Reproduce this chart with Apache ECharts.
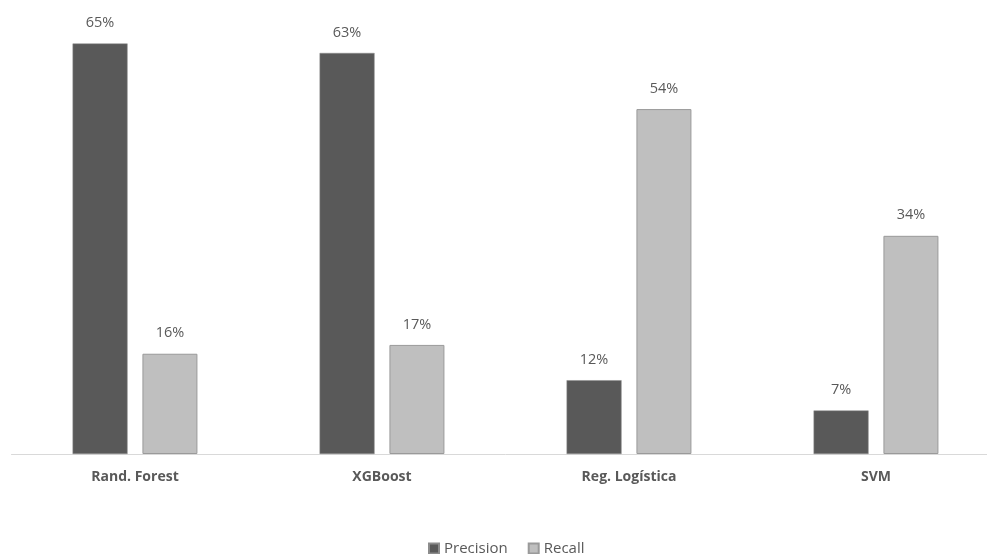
<!DOCTYPE html>
<html>
<head>
<meta charset="utf-8">
<script src="https://cdn.jsdelivr.net/npm/echarts@6/dist/echarts.min.js"></script>
<style>
  html, body { margin: 0; padding: 0; background: #fff; overflow: hidden; }
  /* the plot runs a little past the right edge of the window in the original */
  #chart { width: 1000px; height: 554px; }
</style>
</head>
<body>
<div id="chart"></div>
<script>
const categories = ['Rand. Forest', 'XGBoost', 'Reg. Logística', 'SVM']
const precision = [65.1, 63.6, 11.7, 6.9]
const recall = [15.9, 17.3, 54.7, 34.6]
const precisionLabels = ['65%', '63%', '12%', '7%']
const recallLabels = ['16%', '17%', '54%', '34%']

const font = '"Open Sans", "Noto Sans", sans-serif'
const textColor = '#595959'

const chart = echarts.init(document.getElementById('chart'))

const makeLabel = (labels) => ({
  show: true,
  position: 'top',
  distance: 13,
  color: textColor,
  fontFamily: font,
  fontSize: 14.5,
  formatter: p => labels[p.dataIndex]
})

chart.setOption({
  animation: false,
  grid: { left: 11.5, width: 988, top: 0, bottom: 100 },
  legend: {
    top: 536,
    left: 423,
    icon: 'rect',
    itemWidth: 10,
    itemHeight: 10,
    itemGap: 20,
    textStyle: { color: textColor, fontFamily: font, fontSize: 15 },
    data: ['Precision', 'Recall']
  },
  xAxis: {
    type: 'category',
    data: categories,
    axisLine: { lineStyle: { color: '#d9d9d9', width: 1 } },
    axisTick: { show: false },
    axisLabel: {
      color: textColor,
      fontFamily: font,
      fontSize: 14,
      fontWeight: 'bold',
      margin: 16
    }
  },
  yAxis: {
    type: 'value',
    min: 0,
    max: 72,
    show: false,
    splitLine: { show: false }
  },
  series: [
    {
      name: 'Precision',
      type: 'bar',
      data: precision,
      barWidth: 55,
      barGap: '27%',
      itemStyle: { color: '#595959', borderColor: '#8c8c8c', borderWidth: 0.5 },
      label: makeLabel(precisionLabels)
    },
    {
      name: 'Recall',
      type: 'bar',
      data: recall,
      barWidth: 55,
      itemStyle: { color: '#bfbfbf', borderColor: '#9a9a9a', borderWidth: 1 },
      label: makeLabel(recallLabels)
    }
  ]
})
</script>
</body>
</html>
